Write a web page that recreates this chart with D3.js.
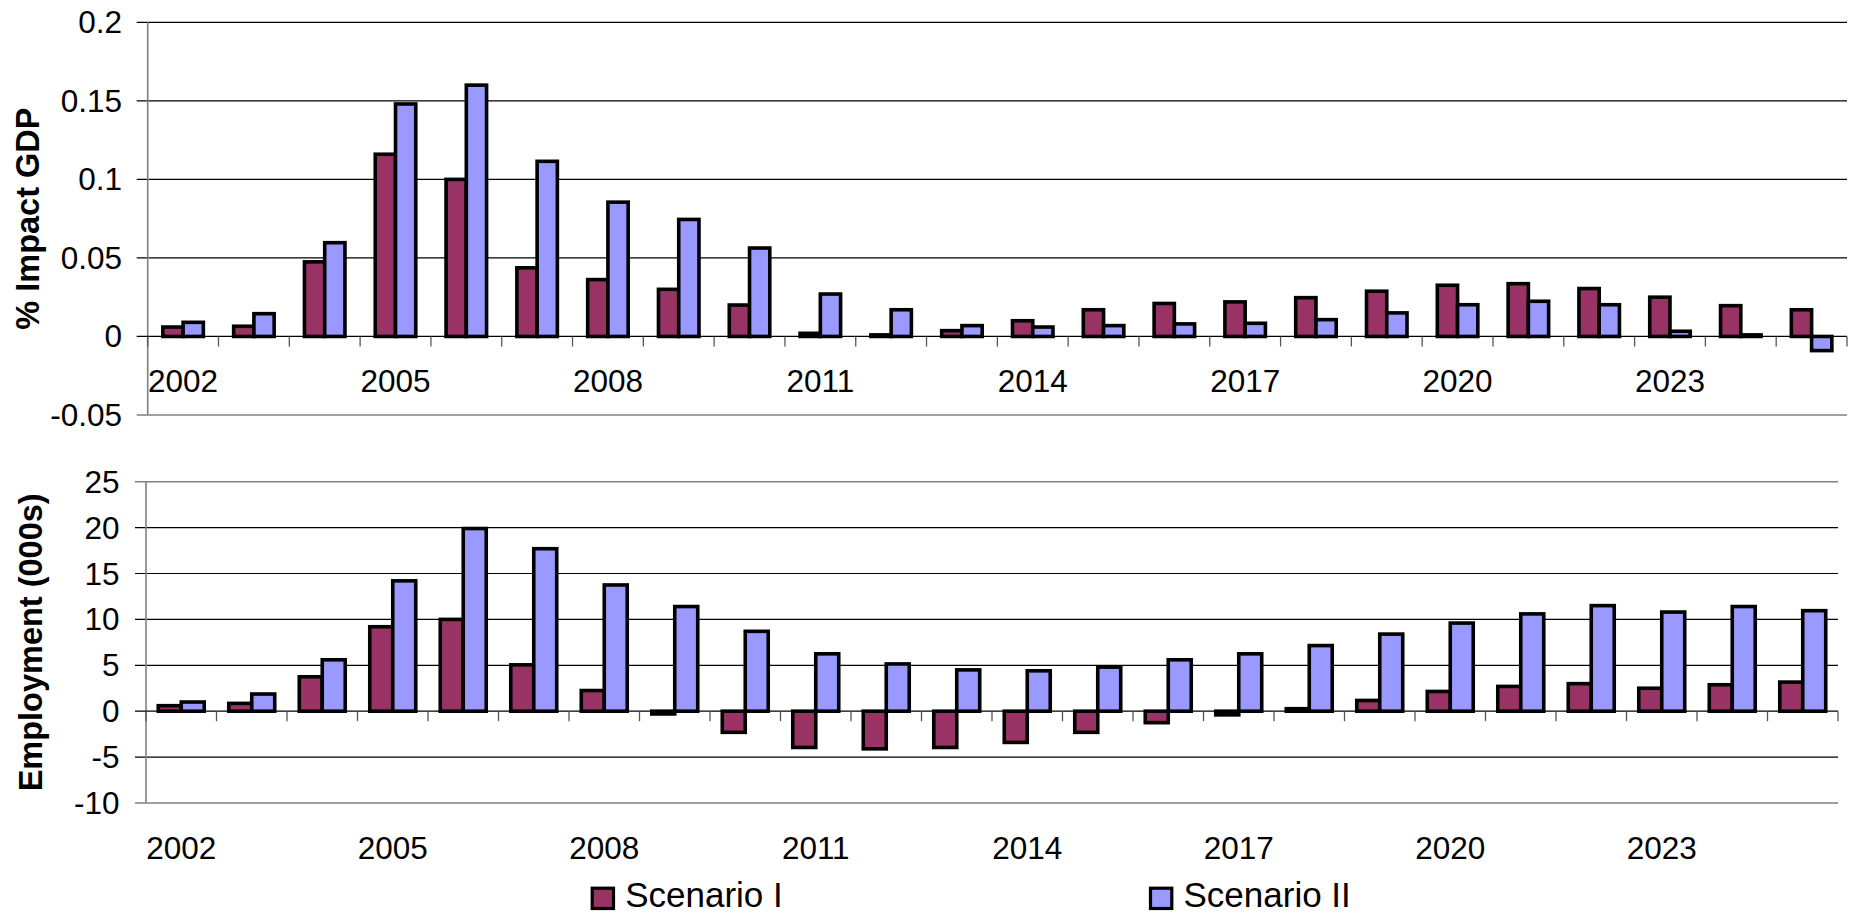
<!DOCTYPE html>
<html>
<head>
<meta charset="utf-8">
<script src="https://cdn.jsdelivr.net/npm/d3@7"></script>
<style>
  html, body { margin: 0; padding: 0; background: #fff; }
  svg { display: block; font-family: "Liberation Sans", Arial, sans-serif; }
</style>
</head>
<body>
<div id="chart"></div>
<script>
// --- DATA ---
const years = ["2002","2003","2004","2005","2006","2007","2008","2009","2010","2011","2012","2013",
               "2014","2015","2016","2017","2018","2019","2020","2021","2022","2023","2024","2025"];
const yearLabels = ["2002","2005","2008","2011","2014","2017","2020","2023"];
const seriesNames = ["Scenario I", "Scenario II"];

// % impact on GDP
const gdpScenarioI  = [0.006, 0.0065, 0.0475, 0.116, 0.100, 0.0437, 0.0362, 0.030, 0.020, 0.002, 0.001, 0.0037,
                       0.010, 0.017, 0.021, 0.022, 0.0247, 0.0288, 0.0326, 0.0336, 0.0305, 0.025, 0.0196, 0.017];
const gdpScenarioII = [0.009, 0.0145, 0.0597, 0.148, 0.160, 0.1115, 0.0855, 0.0745, 0.0563, 0.027, 0.017, 0.0069,
                       0.006, 0.0069, 0.008, 0.0084, 0.0107, 0.015, 0.0202, 0.0224, 0.0202, 0.0033, 0.001, -0.009];
const gdpTicks = [-0.05, 0, 0.05, 0.1, 0.15, 0.2];

// Employment (000s)
const empScenarioI  = [0.6, 0.85, 3.75, 9.2, 10.0, 5.05, 2.25, -0.3, -2.3, -3.95, -4.1, -3.95,
                       -3.4, -2.3, -1.25, -0.4, 0.27, 1.17, 2.15, 2.7, 3.0, 2.5, 2.88, 3.17];
const empScenarioII = [1.0, 1.87, 5.6, 14.2, 19.9, 17.7, 13.75, 11.4, 8.7, 6.25, 5.15, 4.5,
                       4.4, 4.8, 5.6, 6.25, 7.15, 8.4, 9.6, 10.6, 11.5, 10.8, 11.4, 10.95];
const empTicks = [-10, -5, 0, 5, 10, 15, 20, 25];

const colors = { "Scenario I": "#993366", "Scenario II": "#9999FF" };

// --- SETUP ---
const W = 1851, H = 914;
const svg = d3.select("#chart").append("svg").attr("width", W).attr("height", H);

function drawPanel(cfg) {
    const g = svg.append("g");
    const x0 = d3.scaleBand().domain(years).range([cfg.left, cfg.right]).padding(0);
    const bw = x0.bandwidth();
    const groupW = bw * cfg.groupFrac;
    const x1 = d3.scaleBand().domain(seriesNames).range([(bw - groupW) / 2, (bw + groupW) / 2]).padding(0);
    const y = d3.scaleLinear().domain(cfg.domain).range([cfg.bottom, cfg.top]);
    const isBorder = d => d === cfg.domain[0] || (cfg.grayTop && d === cfg.domain[1]);

    // gridlines (extend left as y-axis tick marks)
    g.append("g").selectAll("line")
        .data(cfg.ticks.filter(t => t !== 0))
        .join("line")
        .attr("x1", cfg.left - 11).attr("x2", cfg.right)
        .attr("y1", d => y(d)).attr("y2", d => y(d))
        .attr("stroke", d => isBorder(d) ? "#808080" : "#000")
        .attr("stroke-width", d => isBorder(d) ? 1.6 : 1.2);

    // y axis line
    g.append("line")
        .attr("x1", cfg.left).attr("x2", cfg.left)
        .attr("y1", y(cfg.domain[1])).attr("y2", y(cfg.domain[0]))
        .attr("stroke", "#808080").attr("stroke-width", 1.6);

    // y tick labels
    g.append("g").selectAll("text")
        .data(cfg.ticks)
        .join("text")
        .attr("x", cfg.labelRight).attr("y", d => y(d))
        .attr("dy", "0.35em")
        .attr("text-anchor", "end")
        .attr("font-size", 31.5)
        .attr("fill", "#000")
        .text(d => String(d));

    // bars
    const rows = years.map((yr, i) => ({ year: yr, values: [cfg.s1[i], cfg.s2[i]] }));
    g.append("g").selectAll("g")
        .data(rows)
        .join("g")
        .attr("transform", d => `translate(${x0(d.year)},0)`)
        .selectAll("rect")
        .data(d => d.values.map((v, k) => ({ name: seriesNames[k], value: v })))
        .join("rect")
        .attr("x", d => x1(d.name))
        .attr("width", x1.bandwidth())
        .attr("y", d => Math.min(y(d.value), y(0)))
        .attr("height", d => Math.abs(y(d.value) - y(0)))
        .attr("fill", d => colors[d.name])
        .attr("stroke", "#000")
        .attr("stroke-width", 3.6)
        .attr("stroke-linejoin", "miter");

    // category axis at zero
    g.append("line")
        .attr("x1", cfg.left - 11).attr("x2", cfg.right)
        .attr("y1", y(0)).attr("y2", y(0))
        .attr("stroke", "#000").attr("stroke-width", 1.3);
    const bounds = years.map(d => x0(d)).concat([cfg.right]);
    g.append("g").selectAll("line")
        .data(bounds)
        .join("line")
        .attr("x1", d => d).attr("x2", d => d)
        .attr("y1", y(0)).attr("y2", y(0) + 10)
        .attr("stroke", "#555").attr("stroke-width", 1.3);

    // category labels
    g.append("g").selectAll("text")
        .data(yearLabels)
        .join("text")
        .attr("x", d => x0(d) + bw / 2)
        .attr("y", cfg.xLabelY)
        .attr("text-anchor", "middle")
        .attr("font-size", 31.5)
        .attr("fill", "#000")
        .text(d => d);

    // axis title
    g.append("text")
        .attr("transform", `translate(${cfg.titleX},${(y(cfg.domain[0]) + y(cfg.domain[1])) / 2}) rotate(-90)`)
        .attr("text-anchor", "middle")
        .attr("font-size", 32.5)
        .attr("font-weight", "bold")
        .attr("fill", "#000")
        .text(cfg.title);
}

drawPanel({
    title: "% Impact GDP", s1: gdpScenarioI, s2: gdpScenarioII, ticks: gdpTicks,
    domain: [-0.05, 0.2], left: 147.7, right: 1847, top: 22.3, bottom: 415,
    groupFrac: 0.572, labelRight: 122, xLabelY: 392, titleX: 39, grayTop: false
});

drawPanel({
    title: "Employment (000s)", s1: empScenarioI, s2: empScenarioII, ticks: empTicks,
    domain: [-10, 25], left: 146, right: 1838, top: 481.7, bottom: 803,
    groupFrac: 0.652, labelRight: 119.5, xLabelY: 859, titleX: 42, grayTop: true
});

// --- LEGEND ---
const legendX = [592.2, 1150.5];
const legend = svg.append("g").selectAll("g")
    .data(seriesNames)
    .join("g")
    .attr("transform", (d, i) => `translate(${legendX[i]},888.2)`);
legend.append("rect")
    .attr("width", 21.3).attr("height", 20.3)
    .attr("fill", d => colors[d])
    .attr("stroke", "#000").attr("stroke-width", 3.2);
legend.append("text")
    .attr("x", 33).attr("y", 18.8)
    .attr("font-size", 35)
    .attr("fill", "#000")
    .text(d => d);
</script>
</body>
</html>
